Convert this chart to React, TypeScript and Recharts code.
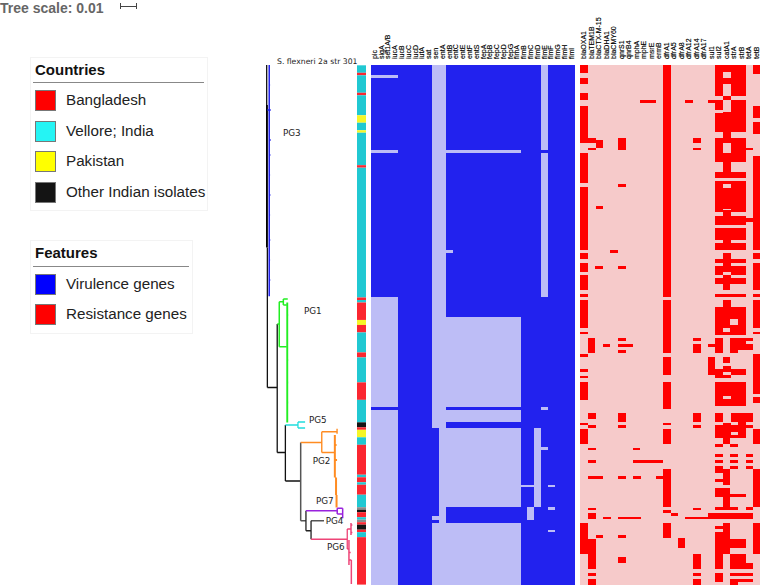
import { BarChart, Bar, LineChart, Line, XAxis, YAxis } from "recharts"

// rows of the heatmap, top to bottom
const ROWS = 208

const virulenceGenes = ["pic", "sigA", "set1A/B", "iucA", "iucB", "iucC", "iucD", "iutA", "sat", "sen", "entA", "entB", "entC", "entE", "entF", "entS", "fepA", "fepB", "fepC", "fepD", "fepG", "fimA", "fimB", "fimC", "fimD", "fimE", "fimF", "fimG", "fimH", "fimI"]
const resistanceGenes = ["blaOXA1", "blaTEM1B", "blaCTX-M-15", "blaDHA1", "blaCMY60", "qnrS1", "qnrB4", "mphA", "mphE", "msrE", "ermB", "dfrA1", "dfrA5", "dfrA8", "dfrA12", "dfrA14", "dfrA17", "sul1", "sul2", "catA1", "strA", "strB", "tetA", "tetB"]

// virulence genes: rows where the gene is missing
const picAbsent = [[4, 5], [34, 35], [93, 137], [138, 208]]
const senAbsent = [[0, 145.3], [180.5, 182], [183.2, 208]]
const entAAbsent = [[0, 208]]
const entBAbsent = [[34, 35], [74, 75], [101, 137], [138, 143], [145.3, 176.7], [183.2, 208]]
const entAbsent = [[34, 35], [101, 137], [138, 143], [145.3, 176.7], [183.2, 208]]
const fimBAbsent = [[168, 169]]
const fimCAbsent = [[168, 169], [176.7, 182]]
const fimDAbsent = [[145.3, 176.7]]
const fimEAbsent = [[0, 34], [35, 93], [137, 138], [153, 154]]
const fimFAbsent = [[168, 169], [177, 178], [186, 187]]

const virulenceAbsent = [
  picAbsent, picAbsent, picAbsent, picAbsent, [], [], [], [], [], senAbsent, entAAbsent, entBAbsent,
  entAbsent, entAbsent, entAbsent, entAbsent, entAbsent, entAbsent, entAbsent, entAbsent, entAbsent, entAbsent,
  fimBAbsent, fimCAbsent, fimDAbsent, fimEAbsent, fimFAbsent, [], [], [],
]

// resistance genes: rows where the gene is present
const blaOXA1 = [[0, 3], [5, 7.5], [11, 14], [16.3, 31], [35, 47.3], [48.7, 74], [75.3, 77.7], [79, 82.8], [84, 90], [91.6, 92.8], [94, 105.3], [106.7, 107.7], [115.5, 116.7], [121.7, 122.8], [124.3, 125.3], [126.7, 134], [143, 144], [145.5, 151.7], [183, 195.5]]
const blaTEM1B = [[29, 31], [33, 34], [109, 115.3], [139, 141.7], [144, 145.3], [153, 154], [158, 159], [164.4, 165.5], [177, 178], [179.3, 181.7], [189.5, 201.7], [203, 204.4], [205.5, 208]]
const blaCTX = [[30, 33], [56.5, 57.6], [80.3, 81.5], [164.4, 165.5], [188, 189]]
const blaDHA1 = [[111.6, 112.8], [180.6, 181.7]]
const blaCMY60 = [[74, 75.2]]
const qnrS1 = [[29, 34], [47.6, 48.8], [80.3, 81.5], [109, 110.2], [111.6, 112.8], [114, 115.3], [139, 142.8], [144, 145.3], [164.4, 165.5], [180.6, 181.7], [188, 189.2], [196.8, 199.3]]
const qnrB4 = [[111.6, 112.8], [180.6, 181.7]]
const mphA = [[153, 154], [158, 159], [164.4, 165.5], [180.6, 181.7]]
const mphE = [[14, 15.3], [158, 159]]
const msrE = [[14, 15.3], [158, 159]]
const ermB = [[158, 159], [164.4, 165.5]]
const dfrA1 = [[0, 92.7], [94, 115.3], [116.7, 124], [126.7, 137.7], [143, 144], [145.5, 151.7], [161.7, 176.7], [178, 179.2], [183, 189.2]]
const dfrA5 = [[179.3, 180.5]]
const dfrA8 = [[189.3, 193]]
const dfrA12 = [[14, 15.3], [180.6, 181.7]]
const dfrA14 = [[29, 31.3], [33, 34], [109, 110.2], [111.6, 115.3], [139, 142.8], [144, 145.3], [177, 178], [180.6, 181.7], [195.5, 201.7], [203, 204.4], [205.5, 208]]
const dfrA17 = [[180.6, 181.7]]
const sul1 = [[14, 15.3], [111.6, 112.8], [116.7, 124], [179.3, 181.7]]
const sul2 = [[0, 12.5], [14, 18], [19, 26.7], [29, 38.7], [42.7, 45], [46.3, 58.8], [60.3, 64], [65.3, 70], [71.3, 74], [77.7, 79], [80.3, 84], [85.3, 87.6], [91.6, 92.8], [96.7, 108], [109, 115.3], [121.7, 125.3], [126.7, 136.4], [139, 142.8], [144, 149], [151.7, 152.8], [155.5, 156.6], [158, 159], [160.4, 163], [165.5, 166.8], [169.3, 172.8], [176.7, 178], [179.3, 181.7], [184.4, 185.7], [186.8, 201.7], [203, 206.8]]
const catA1 = [[0, 2.7], [5, 7.5], [12.5, 14], [18.7, 31.3], [35, 45], [46.3, 47.6], [49, 57.7], [58, 64], [65.3, 74], [75.3, 82.8], [84, 90], [91.6, 92.8], [94, 105.3], [106.7, 108], [116.7, 119], [120.4, 122.8], [124, 125.3], [126.7, 132.4], [133.7, 136.4], [143, 151.7], [161.7, 168], [169.3, 178], [179.3, 181.7], [183, 195.5]]
const strA = [[0, 12.5], [14, 26.7], [29, 38.7], [42.7, 45], [46.3, 58.8], [60.3, 64], [65.3, 70], [71.3, 74], [77.7, 79], [80.3, 84], [85.3, 87.6], [91.6, 92.8], [96.7, 101.6], [104, 108], [109, 115.3], [121.7, 124], [126.7, 136.4], [139, 142.8], [144, 146.7], [148, 149], [151.7, 152.8], [155.5, 156.6], [158, 159], [160.4, 161.7], [171.7, 172.8], [176.7, 178], [179.3, 181.7], [189.5, 193], [195.5, 201.7], [203, 204.4], [205.5, 208]]
const strB = [[0, 12.5], [14, 26.7], [29, 38.7], [42.7, 45], [46.3, 58.8], [60.3, 64], [65.3, 70], [71.3, 74], [77.7, 79], [80.3, 84], [85.3, 87.6], [91.6, 92.8], [96.7, 108], [109, 114], [121.7, 124], [126.7, 136.4], [139, 149], [171.7, 172.8], [179.3, 181.7], [189.5, 193], [195.5, 201.7], [203, 204.4], [205.5, 206.8]]
const tetA = [[33, 34], [61.3, 62.7], [109, 110.3], [111.6, 114], [139, 142.8], [144, 145.3], [155.5, 156.6], [158, 159], [160.4, 161.7], [176.7, 178], [179.3, 181.7], [199.3, 201.7], [203, 204.4], [205.5, 206.8]]
const tetB = [[0, 3.7], [16.3, 21], [22.7, 27.6], [36.4, 74], [75.3, 77.7], [79, 90], [91.6, 92.8], [94, 105.3], [106.7, 107.7], [115.5, 131.6], [132.8, 135.3], [145.5, 151.7], [161.7, 176.7], [183, 195.5]]

const resistancePresent = [blaOXA1, blaTEM1B, blaCTX, blaDHA1, blaCMY60, qnrS1, qnrB4, mphA, mphE, msrE, ermB, dfrA1, dfrA5, dfrA8, dfrA12, dfrA14, dfrA17, sul1, sul2, catA1, strA, strB, tetA, tetB]

// country strip, run by run
const countryRuns = ["V", "B", "V", "B", "V", "Y", "V", "Y", "V", "B", "V", "B", "V", "B", "Y", "B", "V", "B", "V", "B", "V", "K", "B", "Y", "V", "B", "V", "B", "V", "B", "V", "G", "K", "B", "V", "G", "B", "K", "B", "V", "B"]
const countryLengths = [3, 1, 7, 1, 8, 3, 3, 1, 13, 1, 52, 1, 1, 7, 2, 3, 8, 2, 10, 7, 9, 2, 1, 3, 3, 12, 1, 2, 1, 4, 5, 1, 1, 2, 1, 1, 1, 2, 1, 2, 19]
const countryColors: any = { V: "#20c8d2", B: "#fb2630", Y: "#f6f626", K: "#141414", G: "#8a8a8a" }

// tree branches as [distance, row, distance, row], distance in substitutions per site
const trunkThin = [[0.0004, 0, 0.0004, 16], [0.0008, 73, 0.0008, 129], [0.0008, 129, 0.0066, 129], [0.0066, 103.6, 0.0066, 155], [0.0066, 155, 0.0114, 155], [0.0114, 144, 0.0114, 166.4], [0.0114, 166.4, 0.0204, 166.4]]
const trunkThick = [[0.0004, 16, 0.0004, 73]]
const trunkGrey = [[0.0204, 151, 0.0204, 182.3], [0.0204, 182.3, 0.0235, 182.3], [0.0265, 182.3, 0.0341, 182.3]]
const trunkLower = [[0.0235, 178.3, 0.0235, 186.3], [0.0235, 186.3, 0.0265, 186.3], [0.0265, 182.3, 0.0265, 189.7]]
const pg3Branches = [[0.0019, 0, 0.0019, 92.5], [0.0008, 18, 0.0028, 18], [0.0019, 8, 0.0024, 8], [0.0019, 30, 0.0028, 30], [0.0019, 36, 0.0026, 36], [0.0019, 44, 0.0024, 44], [0.0019, 52, 0.0026, 52], [0.0019, 60, 0.0024, 60], [0.0019, 70, 0.0025, 70], [0.0019, 78, 0.0024, 78], [0.0019, 86, 0.0025, 86]]
const pg1Branches = [[0.0066, 103.6, 0.0078, 103.6], [0.0078, 94.7, 0.0078, 112.7], [0.0078, 94.7, 0.0102, 94.7], [0.0102, 93.6, 0.0102, 96], [0.0102, 93.6, 0.0128, 93.6], [0.0102, 96, 0.0122, 96], [0.0078, 112.7, 0.0122, 112.7]]
const pg1Tips = [[0.0125, 95, 0.0125, 143], [0.0125, 100, 0.0131, 100], [0.0125, 118, 0.0131, 118], [0.0125, 127, 0.0131, 127], [0.0125, 135, 0.0131, 135]]
const pg5Branches = [[0.0114, 144, 0.0188, 144], [0.0188, 142.8, 0.0188, 145.2], [0.0188, 142.8, 0.023, 142.8], [0.0188, 145.2, 0.023, 145.2]]
const pg2Branches = [[0.0204, 151, 0.0328, 151], [0.0328, 146.7, 0.0328, 155], [0.0328, 146.7, 0.0418, 146.7], [0.0418, 145.5, 0.0418, 147.5], [0.0328, 155, 0.0402, 155]]
const pg2Tips = [[0.0405, 148, 0.0405, 165], [0.0405, 152, 0.0415, 152], [0.0405, 158, 0.0418, 158], [0.0412, 165, 0.0412, 172], [0.0415, 172, 0.0415, 177]]
const pg4Branches = [[0.0235, 178.3, 0.0419, 178.3], [0.0419, 177.3, 0.0419, 179.6], [0.0419, 177.3, 0.0451, 177.3], [0.0419, 179.6, 0.0451, 179.6], [0.0451, 177.3, 0.0451, 181.3]]
const pg6Branches = [[0.0265, 189.7, 0.0478, 189.7], [0.0478, 185.6, 0.0478, 193.6], [0.0478, 185.6, 0.05, 185.6], [0.0478, 193.6, 0.0488, 193.6]]
const pg6Tips = [[0.05, 183.2, 0.05, 188], [0.05, 184, 0.0508, 184], [0.05, 187, 0.0508, 187], [0.0488, 190, 0.0488, 200], [0.0488, 195, 0.0498, 195], [0.0488, 198, 0.0502, 198], [0.0502, 198, 0.0502, 207.6]]

const cladeLabels = ["PG3", "PG1", "PG5", "PG2", "PG7", "PG4", "PG6"]
const countryLabels = ["Bangladesh", "Vellore; India", "Pakistan", "Other Indian isolates"]
const countrySwatches = ["#ff0000", "#25f4f4", "#ffff00", "#141414"]
const featureLabels = ["Virulence genes", "Resistance genes"]
const featureSwatches = ["#0000ff", "#ff0000"]

const FONT = "'Liberation Sans', Arial, sans-serif"
const TREE_FONT = "'DejaVu Sans', sans-serif"

// one stacked bar per gene: gap, span, gap, span ... down the column
function buildColumns(genes: string[], spans: number[][][]) {
  return genes.map((gene, i) => {
    const row: any = { gene }
    let pos = 0
    let k = 0
    spans[i].forEach(([a, b]) => {
      row[`s${k++}`] = a - pos
      row[`s${k++}`] = b - a
      pos = b
    })
    row[`s${k++}`] = ROWS - pos
    row.count = k
    return row
  })
}

function GeneTick({ x, y, payload }: any) {
  return (
    <text
      x={x + 2.5}
      y={y - 4}
      transform={`rotate(-90 ${x + 2.5} ${y - 4})`}
      textAnchor="start"
      fontSize={7}
      fontFamily={FONT}
      fill="#000"
      stroke="#000"
      strokeWidth={0.15}
    >
      {payload.value}
    </text>
  )
}

function HeatPanel({ genes, spans, left, width, gapColor, spanColor }: any) {
  const table = buildColumns(genes, spans)
  const segs = Math.max(...table.map((r: any) => r.count))

  return (
    <div style={{ position: "absolute", left, top: 0 }}>
      <div style={{ position: "absolute", left: 0, top: 65, width, height: 520, background: gapColor }} />
      <BarChart
        width={width}
        height={586}
        data={table}
        barCategoryGap={0}
        margin={{ top: 0, right: 0, bottom: 1, left: 0 }}
      >
        <XAxis
          dataKey="gene"
          orientation="top"
          height={65}
          interval={0}
          tickSize={0}
          axisLine={false}
          tick={<GeneTick />}
        />
        <YAxis hide reversed type="number" domain={[0, ROWS]} />
        {Array.from({ length: segs }).map((_, k) => (
          <Bar
            key={k}
            dataKey={`s${k}`}
            stackId="a"
            fill={k % 2 ? spanColor : gapColor}
            shapeRendering="crispEdges"
            isAnimationActive={false}
          />
        ))}
      </BarChart>
    </div>
  )
}

function CountryStrip() {
  const row: any = { name: "country" }
  countryLengths.forEach((v, i) => (row[`r${i}`] = v))

  return (
    <div style={{ position: "absolute", left: 357.3, top: 0 }}>
      <BarChart
        width={9.2}
        height={586}
        data={[row]}
        barCategoryGap={0}
        margin={{ top: 65, right: 0, bottom: 1, left: 0 }}
      >
        <XAxis dataKey="name" hide />
        <YAxis hide reversed type="number" domain={[0, ROWS]} />
        {countryRuns.map((c, i) => (
          <Bar key={i} dataKey={`r${i}`} stackId="a" fill={countryColors[c]} isAnimationActive={false} />
        ))}
      </BarChart>
    </div>
  )
}

// branches to line points, a null row breaks the path
function toPath(branches: number[][]) {
  const pts: any[] = []
  branches.forEach(([x1, y1, x2, y2]) => {
    pts.push({ x: x1, y: y1 }, { x: x2, y: y2 }, { x: x2, y: null })
  })
  return pts
}

const treeSeries: any[] = [
  { name: "trunk", data: trunkThin, color: "#111", width: 1.3 },
  { name: "trunkThick", data: trunkThick, color: "#000", width: 2.4 },
  { name: "trunkGrey", data: trunkGrey, color: "#555", width: 1.5 },
  { name: "trunkLower", data: trunkLower, color: "#222", width: 1.3 },
  { name: "PG3", data: pg3Branches, color: "#2222ee", width: 1.5 },
  { name: "PG1", data: pg1Branches, color: "#22ee22", width: 1.5 },
  { name: "PG1tips", data: pg1Tips, color: "#22ee22", width: 1.9 },
  { name: "PG5", data: pg5Branches, color: "#22dddd", width: 1.3 },
  { name: "PG2", data: pg2Branches, color: "#ff8c22", width: 1.4 },
  { name: "PG2tips", data: pg2Tips, color: "#ff8c22", width: 2 },
  { name: "PG4", data: pg4Branches, color: "#9922dd", width: 1.5 },
  { name: "PG6", data: pg6Branches, color: "#ee4477", width: 1.3 },
  { name: "PG6tips", data: pg6Tips, color: "#ee4477", width: 1.5 },
]

function Tree() {
  return (
    <div style={{ position: "absolute", left: 266, top: 0 }}>
      <LineChart width={90} height={586} margin={{ top: 65, right: 0, bottom: 1, left: 0 }}>
        <XAxis hide dataKey="x" type="number" domain={[0, 90 / 1700]} />
        <YAxis hide reversed type="number" domain={[0, ROWS]} />
        {treeSeries.map((s) => (
          <Line
            key={s.name}
            data={toPath(s.data)}
            dataKey="y"
            stroke={s.color}
            strokeWidth={s.width}
            dot={false}
            connectNulls={false}
            isAnimationActive={false}
          />
        ))}
      </LineChart>
    </div>
  )
}

const cladePos = [[283, 133], [304, 311], [309, 420], [312.7, 461], [316, 501], [325.7, 521], [327, 546.7]]

function LegendBox({ title, labels, swatches, left, top, width, height, ruleTop, rowTops }: any) {
  return (
    <div style={{ position: "absolute", left, top, width, height, border: "1px solid #f3f3f3", fontFamily: FONT }}>
      <div style={{ position: "absolute", left: 4, top: 2, fontSize: 15, fontWeight: "bold", color: "#111", lineHeight: "20px" }}>{title}</div>
      <div style={{ position: "absolute", left: 2, right: 3, top: ruleTop, height: 1, background: "#888" }} />
      {labels.map((l: string, i: number) => (
        <div key={l}>
          <div style={{ position: "absolute", left: 4, top: rowTops[i], width: 19, height: 19, background: swatches[i], border: "1px solid #777" }} />
          <div style={{ position: "absolute", left: 35, top: rowTops[i], fontSize: 15.2, lineHeight: "20px", color: "#222", whiteSpace: "nowrap" }}>{l}</div>
        </div>
      ))}
    </div>
  )
}

export default function App() {
  return (
    <div style={{ position: "fixed", left: 0, top: 0, width: 760, height: 586, overflow: "hidden", background: "#fff" }}>

      {/* Scale */}
      <div style={{ position: "absolute", left: 0, top: 0, fontFamily: FONT, fontSize: 14, lineHeight: "16px", fontWeight: "bold", color: "#666", whiteSpace: "nowrap" }}>
        Tree scale: 0.01
      </div>
      <div style={{ position: "absolute", left: 120, top: 5.5, width: 17, height: 1, background: "#444" }} />
      <div style={{ position: "absolute", left: 120, top: 3, width: 1, height: 6, background: "#444" }} />
      <div style={{ position: "absolute", left: 136, top: 3, width: 1, height: 6, background: "#444" }} />

      {/* Legends */}
      <LegendBox title="Countries" labels={countryLabels} swatches={countrySwatches} left={30} top={57} width={176} height={152} ruleTop={24} rowTops={[32, 62.5, 93, 123.5]} />
      <LegendBox title="Features" labels={featureLabels} swatches={featureSwatches} left={30} top={240} width={161} height={92} ruleTop={25} rowTops={[32.5, 63]} />

      <Tree />
      <div style={{ position: "absolute", left: 277, top: 56.5, fontFamily: TREE_FONT, fontSize: 7.7, lineHeight: "10px", color: "#222", whiteSpace: "nowrap" }}>
        S. flexneri 2a str 301
      </div>
      {cladeLabels.map((l, i) => (
        <div key={l} style={{ position: "absolute", left: cladePos[i][0], top: cladePos[i][1] - 5, fontFamily: TREE_FONT, fontSize: 8.8, lineHeight: "10px", color: "#222" }}>
          {l}
        </div>
      ))}

      <CountryStrip />
      <HeatPanel genes={virulenceGenes} spans={virulenceAbsent} left={371.3} width={203.7} gapColor="#2222ee" spanColor="#bdbdf6" />
      <HeatPanel genes={resistanceGenes} spans={resistancePresent} left={580} width={180} gapColor="#f6caca" spanColor="#ff0000" />
    </div>
  )
}
